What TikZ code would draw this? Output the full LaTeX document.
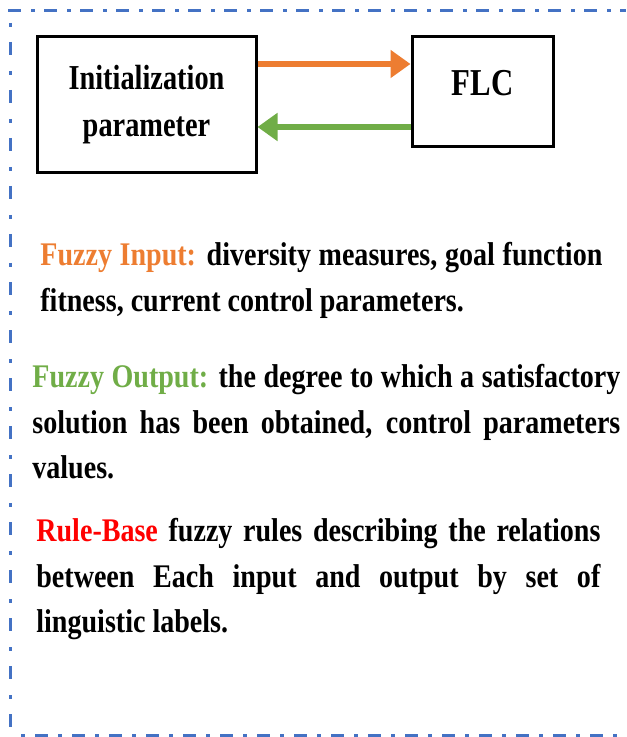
\documentclass[tikz,border=0pt]{standalone}
\usepackage{fontspec}
\usepackage{tikz}
\usetikzlibrary{arrows.meta}
\setmainfont{Liberation Serif}[FakeStretch=0.85]
\newfontfamily\blockfont{Liberation Serif}[FakeStretch=0.81]
\definecolor{fuzzyorange}{RGB}{237,125,49}
\definecolor{fuzzygreen}{RGB}{112,173,71}
\definecolor{frameblue}{RGB}{68,114,196}
\definecolor{rulered}{RGB}{255,0,0}

\begin{document}
\begin{tikzpicture}[x=0.5pt, y=-0.5pt,
  block/.style={rectangle, draw=black, line width=1.5pt, inner sep=0pt, align=center},
  fwd/.style={fuzzyorange, line width=3pt, -{Triangle[width=13.5pt,length=10pt]}},
  back/.style={fuzzygreen, line width=3pt, -{Triangle[width=13.5pt,length=10pt]}},
  para/.style={rectangle, draw=none, inner sep=0pt, anchor=north west, align=justify,
    font=\fontsize{16.5}{22.7}\selectfont\bfseries},
  topframe/.style={frameblue, line width=1.5pt, dash pattern=on 6.5pt off 5pt on 2pt off 4.5pt},
  sideframe/.style={frameblue, line width=1.5pt, dash pattern=on 2pt off 7.5pt on 6.5pt off 8pt},
  bottomframe/.style={frameblue, line width=1.5pt, dash pattern=on 2pt off 5pt on 6.5pt off 5pt}]
\useasboundingbox (0,0) rectangle (626,737);

%%Frame (right side is cut off)
\coordinate (FrameTL) at (8,11);
\coordinate (FrameTR) at (626,11);
\coordinate (FrameL) at (10,23);
\coordinate (FrameBL) at (10,737);
\coordinate (FrameB) at (21,735);
\coordinate (FrameBR) at (626,735);
\draw[topframe] (FrameTL) -- (FrameTR);
\draw[sideframe] (FrameL) -- (FrameBL);
\draw[bottomframe] (FrameB) -- (FrameBR);

%%Blocks
\node[block, minimum width=109.5pt, minimum height=68pt,
  font=\fontsize{17.5}{23.5}\selectfont\blockfont\bfseries] (init) at (146.5,105) {Initialization\\parameter};
\node[block, minimum width=70.5pt, minimum height=55pt, text height=12.6pt, text depth=8.6pt,
  font=\fontsize{19}{23.5}\selectfont\blockfont\bfseries] (flc) at (482.5,92) {FLC};

%%Arrows
\draw[fwd] ([yshift=20.5pt]init.east) -- ([yshift=20.5pt]init.east -| flc.west);
\draw[back] ([yshift=-11pt]init.east -| flc.west) -- ([yshift=-11pt]init.east);

%%Fuzzy Input
\node[para, text width=281pt] (input) at (40,242) {\textcolor{fuzzyorange}{Fuzzy Input:} diversity measures, goal function\linebreak
fitness, current control parameters.};

%%Fuzzy Output
\node[para, text width=294pt] (output) at (32,364) {\textcolor{fuzzygreen}{Fuzzy Output:} the degree to which a satisfactory\linebreak
solution has been obtained, control parameters\linebreak
values.};

%%Rule-Base
\node[para, text width=282pt] (rules) at (36,518) {\textcolor{rulered}{Rule-Base} fuzzy rules describing the relations\linebreak
between Each input and output by set of\linebreak
linguistic labels.};

\end{tikzpicture}
\end{document}
